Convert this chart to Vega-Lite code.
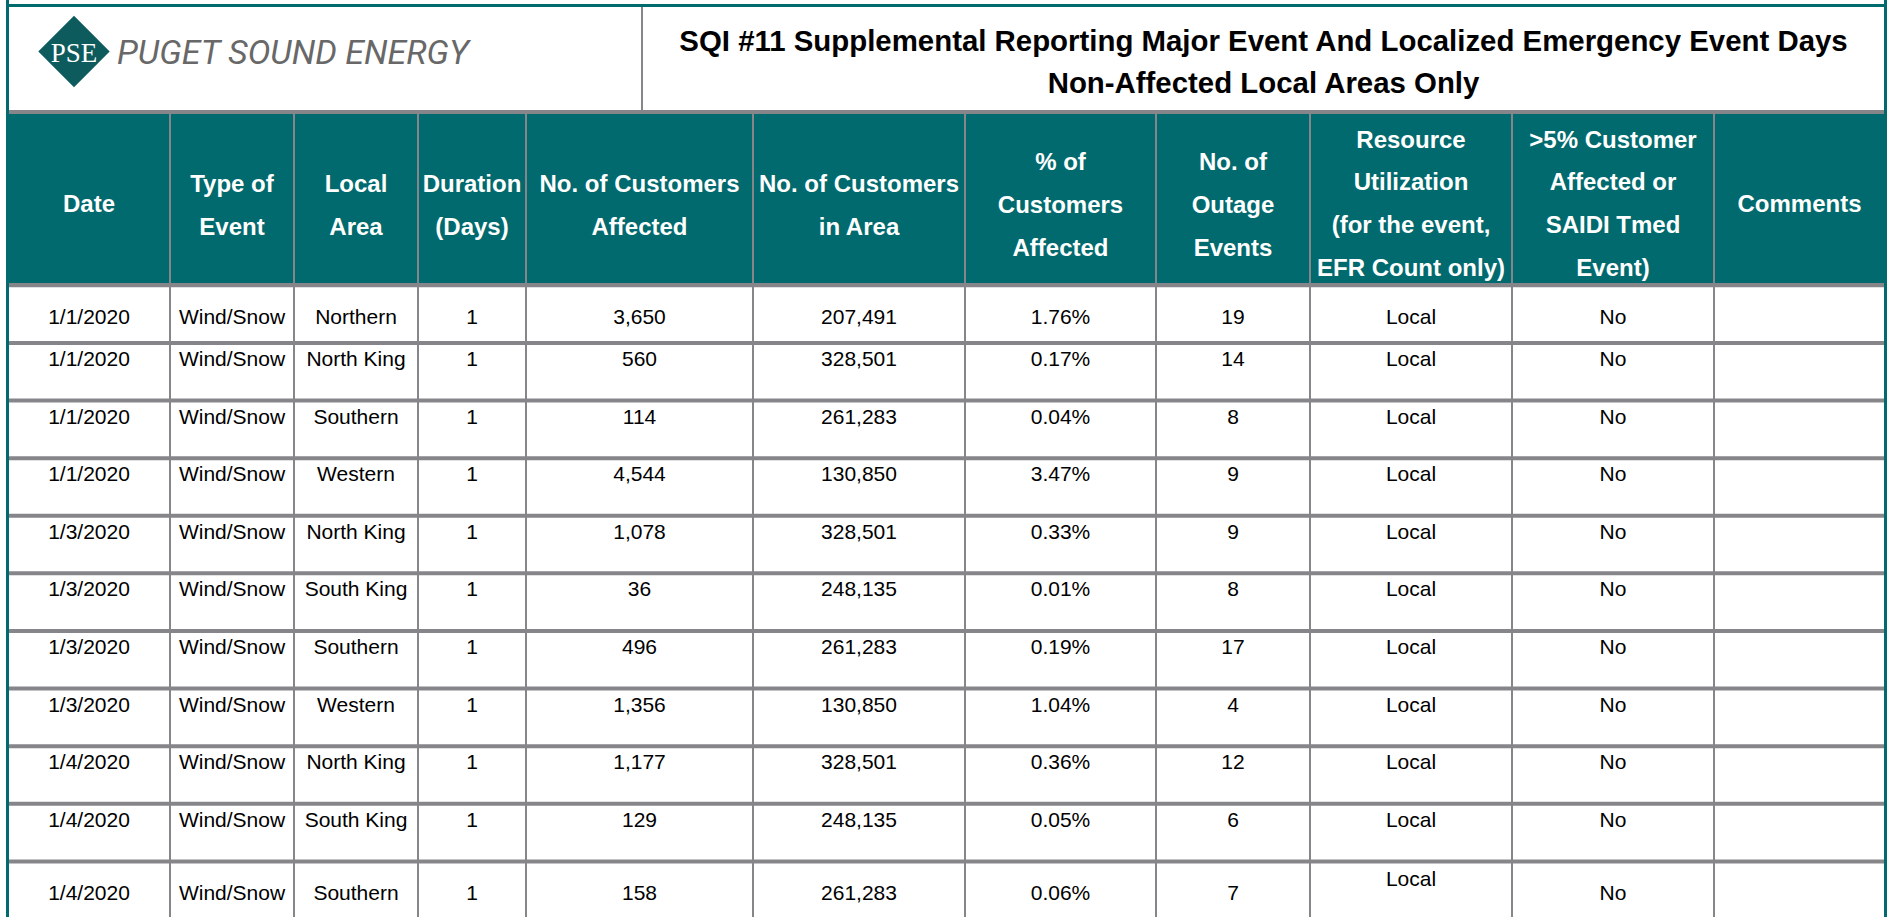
{
  "$schema": "https://vega.github.io/schema/vega-lite/v6.json",
  "background": "#86858a",
  "padding": 0,
  "spacing": 0,
  "config": {
    "view": {"stroke": null},
    "text": {"font": "Liberation Sans", "fontSize": 21, "color": "#000000"}
  },
  "datasets": {
    "logo": [
      {"part": "emblem", "label": "PSE"},
      {"part": "name", "label": "PUGET SOUND ENERGY"}
    ],
    "title": [
      {"lines": ["SQI #11 Supplemental Reporting Major Event And Localized Emergency Event Days", "Non-Affected Local Areas Only"]}
    ],
    "headers": [
      {"key": "date", "lines": ["Date"]},
      {"key": "type", "lines": ["Type of", "Event"]},
      {"key": "area", "lines": ["Local", "Area"]},
      {"key": "days", "lines": ["Duration", "(Days)"]},
      {"key": "affected", "lines": ["No. of Customers", "Affected"]},
      {"key": "customers", "lines": ["No. of Customers", "in Area"]},
      {"key": "pct", "lines": ["% of", "Customers", "Affected"]},
      {"key": "outages", "lines": ["No. of", "Outage", "Events"]},
      {"key": "resource", "lines": ["Resource", "Utilization", "(for the event,", "EFR Count only)"]},
      {"key": "over5", "lines": [">5% Customer", "Affected or", "SAIDI Tmed", "Event)"]},
      {"key": "comments", "lines": ["Comments"]}
    ],
    "rows": [
      {"row": 1, "date": "1/1/2020", "type": "Wind/Snow", "area": "Northern", "days": 1, "affected": 3650, "customers": 207491, "pct": 0.0176, "outages": 19, "resource": "Local", "over5": "No"},
      {"row": 2, "date": "1/1/2020", "type": "Wind/Snow", "area": "North King", "days": 1, "affected": 560, "customers": 328501, "pct": 0.0017, "outages": 14, "resource": "Local", "over5": "No"},
      {"row": 3, "date": "1/1/2020", "type": "Wind/Snow", "area": "Southern", "days": 1, "affected": 114, "customers": 261283, "pct": 0.0004, "outages": 8, "resource": "Local", "over5": "No"},
      {"row": 4, "date": "1/1/2020", "type": "Wind/Snow", "area": "Western", "days": 1, "affected": 4544, "customers": 130850, "pct": 0.0347, "outages": 9, "resource": "Local", "over5": "No"},
      {"row": 5, "date": "1/3/2020", "type": "Wind/Snow", "area": "North King", "days": 1, "affected": 1078, "customers": 328501, "pct": 0.0033, "outages": 9, "resource": "Local", "over5": "No"},
      {"row": 6, "date": "1/3/2020", "type": "Wind/Snow", "area": "South King", "days": 1, "affected": 36, "customers": 248135, "pct": 0.0001, "outages": 8, "resource": "Local", "over5": "No"},
      {"row": 7, "date": "1/3/2020", "type": "Wind/Snow", "area": "Southern", "days": 1, "affected": 496, "customers": 261283, "pct": 0.0019, "outages": 17, "resource": "Local", "over5": "No"},
      {"row": 8, "date": "1/3/2020", "type": "Wind/Snow", "area": "Western", "days": 1, "affected": 1356, "customers": 130850, "pct": 0.0104, "outages": 4, "resource": "Local", "over5": "No"},
      {"row": 9, "date": "1/4/2020", "type": "Wind/Snow", "area": "North King", "days": 1, "affected": 1177, "customers": 328501, "pct": 0.0036, "outages": 12, "resource": "Local", "over5": "No"},
      {"row": 10, "date": "1/4/2020", "type": "Wind/Snow", "area": "South King", "days": 1, "affected": 129, "customers": 248135, "pct": 0.0005, "outages": 6, "resource": "Local", "over5": "No"},
      {"row": 11, "date": "1/4/2020", "type": "Wind/Snow", "area": "Southern", "days": 1, "affected": 158, "customers": 261283, "pct": 0.0006, "outages": 7, "resource": "Local", "over5": "No"}
    ]
  },
  "hconcat": [
    {"width": 6, "height": 917, "view": {"fill": "#ffffff"}, "data": {"values": [{}]}, "mark": {"type": "point", "size": 0, "strokeWidth": 0, "opacity": 0}},
    {"width": 3, "height": 917, "view": {"fill": "#016a6e"}, "data": {"values": [{}]}, "mark": {"type": "point", "size": 0, "strokeWidth": 0, "opacity": 0}},
    {
      "spacing": 0,
      "vconcat": [
        {"width": 1875, "height": 4, "view": {"fill": "#ffffff"}, "data": {"values": [{}]}, "mark": {"type": "point", "size": 0, "strokeWidth": 0, "opacity": 0}},
        {"width": 1875, "height": 3, "view": {"fill": "#016a6e"}, "data": {"values": [{}]}, "mark": {"type": "point", "size": 0, "strokeWidth": 0, "opacity": 0}},
        {
          "spacing": 4,
          "vconcat": [
            {
              "spacing": 2,
              "hconcat": [
                {
                  "width": 632, "height": 103, "view": {"fill": "#ffffff"},
                  "data": {"name": "logo"},
                  "encoding": {"x": {"field": "part", "type": "nominal", "axis": null, "scale": {"type": "point", "domain": ["emblem", "name"], "range": [65, 108], "padding": 0}}},
                  "layer": [
                    {"transform": [{"filter": "datum.part === 'emblem'"}], "mark": {"type": "point", "shape": "diamond", "filled": true, "size": 5100, "color": "#0e5b5d", "opacity": 1, "strokeWidth": 0, "yOffset": -7}},
                    {"transform": [{"filter": "datum.part === 'emblem'"}], "mark": {"type": "text", "font": "Liberation Serif", "fontSize": 27, "color": "#ffffff", "dy": -5}, "encoding": {"text": {"field": "label", "type": "nominal"}}},
                    {"transform": [{"filter": "datum.part === 'name'"}], "mark": {"type": "text", "font": "Roboto", "fontWeight": 400, "fontStyle": "italic", "fontSize": 34, "color": "#686868", "align": "left", "dy": -4.6}, "encoding": {"text": {"field": "label", "type": "nominal"}}}
                  ]
                },
                {
                  "width": 1241, "height": 103, "view": {"fill": "#ffffff"},
                  "data": {"name": "title"},
                  "mark": {"type": "text", "fontWeight": "bold", "fontSize": 29.4, "lineHeight": 42.7, "dy": -16.8},
                  "encoding": {"text": {"field": "lines", "type": "nominal"}}
                }
              ]
            },
            {
              "spacing": 2,
              "hconcat": [
                {"width": 160, "height": 169, "view": {"fill": "#016a6e"}, "data": {"name": "headers"}, "transform": [{"filter": "datum.key === 'date'"}], "mark": {"type": "text", "fontWeight": "bold", "fontSize": 24, "color": "#ffffff", "lineHeight": 42.8, "dy": 6.8}, "encoding": {"text": {"field": "lines", "type": "nominal"}}},
                {"width": 122, "height": 169, "view": {"fill": "#016a6e"}, "data": {"name": "headers"}, "transform": [{"filter": "datum.key === 'type'"}], "mark": {"type": "text", "fontWeight": "bold", "fontSize": 24, "color": "#ffffff", "lineHeight": 42.8, "dy": -13.6}, "encoding": {"text": {"field": "lines", "type": "nominal"}}},
                {"width": 122, "height": 169, "view": {"fill": "#016a6e"}, "data": {"name": "headers"}, "transform": [{"filter": "datum.key === 'area'"}], "mark": {"type": "text", "fontWeight": "bold", "fontSize": 24, "color": "#ffffff", "lineHeight": 42.8, "dy": -13.6}, "encoding": {"text": {"field": "lines", "type": "nominal"}}},
                {"width": 106, "height": 169, "view": {"fill": "#016a6e"}, "data": {"name": "headers"}, "transform": [{"filter": "datum.key === 'days'"}], "mark": {"type": "text", "fontWeight": "bold", "fontSize": 24, "color": "#ffffff", "lineHeight": 42.8, "dy": -13.6}, "encoding": {"text": {"field": "lines", "type": "nominal"}}},
                {"width": 225, "height": 169, "view": {"fill": "#016a6e"}, "data": {"name": "headers"}, "transform": [{"filter": "datum.key === 'affected'"}], "mark": {"type": "text", "fontWeight": "bold", "fontSize": 24, "color": "#ffffff", "lineHeight": 42.8, "dy": -13.6}, "encoding": {"text": {"field": "lines", "type": "nominal"}}},
                {"width": 210, "height": 169, "view": {"fill": "#016a6e"}, "data": {"name": "headers"}, "transform": [{"filter": "datum.key === 'customers'"}], "mark": {"type": "text", "fontWeight": "bold", "fontSize": 24, "color": "#ffffff", "lineHeight": 42.8, "dy": -13.6}, "encoding": {"text": {"field": "lines", "type": "nominal"}}},
                {"width": 189, "height": 169, "view": {"fill": "#016a6e"}, "data": {"name": "headers"}, "transform": [{"filter": "datum.key === 'pct'"}], "mark": {"type": "text", "fontWeight": "bold", "fontSize": 24, "color": "#ffffff", "lineHeight": 42.8, "dy": -35.4}, "encoding": {"text": {"field": "lines", "type": "nominal"}}},
                {"width": 152, "height": 169, "view": {"fill": "#016a6e"}, "data": {"name": "headers"}, "transform": [{"filter": "datum.key === 'outages'"}], "mark": {"type": "text", "fontWeight": "bold", "fontSize": 24, "color": "#ffffff", "lineHeight": 42.8, "dy": -35.4}, "encoding": {"text": {"field": "lines", "type": "nominal"}}},
                {"width": 200, "height": 169, "view": {"fill": "#016a6e"}, "data": {"name": "headers"}, "transform": [{"filter": "datum.key === 'resource'"}], "mark": {"type": "text", "fontWeight": "bold", "fontSize": 24, "color": "#ffffff", "lineHeight": 42.8, "dy": -57.9}, "encoding": {"text": {"field": "lines", "type": "nominal"}}},
                {"width": 200, "height": 169, "view": {"fill": "#016a6e"}, "data": {"name": "headers"}, "transform": [{"filter": "datum.key === 'over5'"}], "mark": {"type": "text", "fontWeight": "bold", "fontSize": 24, "color": "#ffffff", "lineHeight": 42.8, "dy": -57.9}, "encoding": {"text": {"field": "lines", "type": "nominal"}}},
                {"width": 169, "height": 169, "view": {"fill": "#016a6e"}, "data": {"name": "headers"}, "transform": [{"filter": "datum.key === 'comments'"}], "mark": {"type": "text", "fontWeight": "bold", "fontSize": 24, "color": "#ffffff", "lineHeight": 42.8, "dy": 6.8}, "encoding": {"text": {"field": "lines", "type": "nominal"}}}
              ]
            },
            {
              "spacing": 2,
              "hconcat": [
                {
                  "width": 160, "height": 630, "data": {"name": "rows"},
                  "encoding": {"y": {"field": "row", "type": "ordinal", "axis": null, "scale": {"domain": [1,2,3,4,5,6,7,8,9,10,11], "range": [0.3, 630], "paddingInner": 0.0693, "paddingOuter": 0}}},
                  "layer": [
                    {"mark": {"type": "rect", "color": "#ffffff"}},
                    {"transform": [{"filter": "datum.row === 1"}], "mark": {"type": "text", "dy": 4.1}, "encoding": {"text": {"field": "date", "type": "nominal"}}},
                    {"transform": [{"filter": "datum.row > 1 && datum.row < 11"}], "mark": {"type": "text", "dy": -11.8}, "encoding": {"text": {"field": "date", "type": "nominal"}}},
                    {"transform": [{"filter": "datum.row === 11"}], "mark": {"type": "text", "dy": 3.4}, "encoding": {"text": {"field": "date", "type": "nominal"}}}
                  ]
                },
                {
                  "width": 122, "height": 630, "data": {"name": "rows"},
                  "encoding": {"y": {"field": "row", "type": "ordinal", "axis": null, "scale": {"domain": [1,2,3,4,5,6,7,8,9,10,11], "range": [0.3, 630], "paddingInner": 0.0693, "paddingOuter": 0}}},
                  "layer": [
                    {"mark": {"type": "rect", "color": "#ffffff"}},
                    {"transform": [{"filter": "datum.row === 1"}], "mark": {"type": "text", "dy": 4.1}, "encoding": {"text": {"field": "type", "type": "nominal"}}},
                    {"transform": [{"filter": "datum.row > 1 && datum.row < 11"}], "mark": {"type": "text", "dy": -11.8}, "encoding": {"text": {"field": "type", "type": "nominal"}}},
                    {"transform": [{"filter": "datum.row === 11"}], "mark": {"type": "text", "dy": 3.4}, "encoding": {"text": {"field": "type", "type": "nominal"}}}
                  ]
                },
                {
                  "width": 122, "height": 630, "data": {"name": "rows"},
                  "encoding": {"y": {"field": "row", "type": "ordinal", "axis": null, "scale": {"domain": [1,2,3,4,5,6,7,8,9,10,11], "range": [0.3, 630], "paddingInner": 0.0693, "paddingOuter": 0}}},
                  "layer": [
                    {"mark": {"type": "rect", "color": "#ffffff"}},
                    {"transform": [{"filter": "datum.row === 1"}], "mark": {"type": "text", "dy": 4.1}, "encoding": {"text": {"field": "area", "type": "nominal"}}},
                    {"transform": [{"filter": "datum.row > 1 && datum.row < 11"}], "mark": {"type": "text", "dy": -11.8}, "encoding": {"text": {"field": "area", "type": "nominal"}}},
                    {"transform": [{"filter": "datum.row === 11"}], "mark": {"type": "text", "dy": 3.4}, "encoding": {"text": {"field": "area", "type": "nominal"}}}
                  ]
                },
                {
                  "width": 106, "height": 630, "data": {"name": "rows"},
                  "encoding": {"y": {"field": "row", "type": "ordinal", "axis": null, "scale": {"domain": [1,2,3,4,5,6,7,8,9,10,11], "range": [0.3, 630], "paddingInner": 0.0693, "paddingOuter": 0}}},
                  "layer": [
                    {"mark": {"type": "rect", "color": "#ffffff"}},
                    {"transform": [{"filter": "datum.row === 1"}], "mark": {"type": "text", "dy": 4.1}, "encoding": {"text": {"field": "days", "type": "quantitative", "format": "d"}}},
                    {"transform": [{"filter": "datum.row > 1 && datum.row < 11"}], "mark": {"type": "text", "dy": -11.8}, "encoding": {"text": {"field": "days", "type": "quantitative", "format": "d"}}},
                    {"transform": [{"filter": "datum.row === 11"}], "mark": {"type": "text", "dy": 3.4}, "encoding": {"text": {"field": "days", "type": "quantitative", "format": "d"}}}
                  ]
                },
                {
                  "width": 225, "height": 630, "data": {"name": "rows"},
                  "encoding": {"y": {"field": "row", "type": "ordinal", "axis": null, "scale": {"domain": [1,2,3,4,5,6,7,8,9,10,11], "range": [0.3, 630], "paddingInner": 0.0693, "paddingOuter": 0}}},
                  "layer": [
                    {"mark": {"type": "rect", "color": "#ffffff"}},
                    {"transform": [{"filter": "datum.row === 1"}], "mark": {"type": "text", "dy": 4.1}, "encoding": {"text": {"field": "affected", "type": "quantitative", "format": ","}}},
                    {"transform": [{"filter": "datum.row > 1 && datum.row < 11"}], "mark": {"type": "text", "dy": -11.8}, "encoding": {"text": {"field": "affected", "type": "quantitative", "format": ","}}},
                    {"transform": [{"filter": "datum.row === 11"}], "mark": {"type": "text", "dy": 3.4}, "encoding": {"text": {"field": "affected", "type": "quantitative", "format": ","}}}
                  ]
                },
                {
                  "width": 210, "height": 630, "data": {"name": "rows"},
                  "encoding": {"y": {"field": "row", "type": "ordinal", "axis": null, "scale": {"domain": [1,2,3,4,5,6,7,8,9,10,11], "range": [0.3, 630], "paddingInner": 0.0693, "paddingOuter": 0}}},
                  "layer": [
                    {"mark": {"type": "rect", "color": "#ffffff"}},
                    {"transform": [{"filter": "datum.row === 1"}], "mark": {"type": "text", "dy": 4.1}, "encoding": {"text": {"field": "customers", "type": "quantitative", "format": ","}}},
                    {"transform": [{"filter": "datum.row > 1 && datum.row < 11"}], "mark": {"type": "text", "dy": -11.8}, "encoding": {"text": {"field": "customers", "type": "quantitative", "format": ","}}},
                    {"transform": [{"filter": "datum.row === 11"}], "mark": {"type": "text", "dy": 3.4}, "encoding": {"text": {"field": "customers", "type": "quantitative", "format": ","}}}
                  ]
                },
                {
                  "width": 189, "height": 630, "data": {"name": "rows"},
                  "encoding": {"y": {"field": "row", "type": "ordinal", "axis": null, "scale": {"domain": [1,2,3,4,5,6,7,8,9,10,11], "range": [0.3, 630], "paddingInner": 0.0693, "paddingOuter": 0}}},
                  "layer": [
                    {"mark": {"type": "rect", "color": "#ffffff"}},
                    {"transform": [{"filter": "datum.row === 1"}], "mark": {"type": "text", "dy": 4.1}, "encoding": {"text": {"field": "pct", "type": "quantitative", "format": ".2%"}}},
                    {"transform": [{"filter": "datum.row > 1 && datum.row < 11"}], "mark": {"type": "text", "dy": -11.8}, "encoding": {"text": {"field": "pct", "type": "quantitative", "format": ".2%"}}},
                    {"transform": [{"filter": "datum.row === 11"}], "mark": {"type": "text", "dy": 3.4}, "encoding": {"text": {"field": "pct", "type": "quantitative", "format": ".2%"}}}
                  ]
                },
                {
                  "width": 152, "height": 630, "data": {"name": "rows"},
                  "encoding": {"y": {"field": "row", "type": "ordinal", "axis": null, "scale": {"domain": [1,2,3,4,5,6,7,8,9,10,11], "range": [0.3, 630], "paddingInner": 0.0693, "paddingOuter": 0}}},
                  "layer": [
                    {"mark": {"type": "rect", "color": "#ffffff"}},
                    {"transform": [{"filter": "datum.row === 1"}], "mark": {"type": "text", "dy": 4.1}, "encoding": {"text": {"field": "outages", "type": "quantitative", "format": "d"}}},
                    {"transform": [{"filter": "datum.row > 1 && datum.row < 11"}], "mark": {"type": "text", "dy": -11.8}, "encoding": {"text": {"field": "outages", "type": "quantitative", "format": "d"}}},
                    {"transform": [{"filter": "datum.row === 11"}], "mark": {"type": "text", "dy": 3.4}, "encoding": {"text": {"field": "outages", "type": "quantitative", "format": "d"}}}
                  ]
                },
                {
                  "width": 200, "height": 630, "data": {"name": "rows"},
                  "encoding": {"y": {"field": "row", "type": "ordinal", "axis": null, "scale": {"domain": [1,2,3,4,5,6,7,8,9,10,11], "range": [0.3, 630], "paddingInner": 0.0693, "paddingOuter": 0}}},
                  "layer": [
                    {"mark": {"type": "rect", "color": "#ffffff"}},
                    {"transform": [{"filter": "datum.row === 1"}], "mark": {"type": "text", "dy": 4.1}, "encoding": {"text": {"field": "resource", "type": "nominal"}}},
                    {"transform": [{"filter": "datum.row > 1 && datum.row < 11"}], "mark": {"type": "text", "dy": -11.8}, "encoding": {"text": {"field": "resource", "type": "nominal"}}},
                    {"transform": [{"filter": "datum.row === 11"}], "mark": {"type": "text", "dy": -10}, "encoding": {"text": {"field": "resource", "type": "nominal"}}}
                  ]
                },
                {
                  "width": 200, "height": 630, "data": {"name": "rows"},
                  "encoding": {"y": {"field": "row", "type": "ordinal", "axis": null, "scale": {"domain": [1,2,3,4,5,6,7,8,9,10,11], "range": [0.3, 630], "paddingInner": 0.0693, "paddingOuter": 0}}},
                  "layer": [
                    {"mark": {"type": "rect", "color": "#ffffff"}},
                    {"transform": [{"filter": "datum.row === 1"}], "mark": {"type": "text", "dy": 4.1}, "encoding": {"text": {"field": "over5", "type": "nominal"}}},
                    {"transform": [{"filter": "datum.row > 1 && datum.row < 11"}], "mark": {"type": "text", "dy": -11.8}, "encoding": {"text": {"field": "over5", "type": "nominal"}}},
                    {"transform": [{"filter": "datum.row === 11"}], "mark": {"type": "text", "dy": 3.4}, "encoding": {"text": {"field": "over5", "type": "nominal"}}}
                  ]
                },
                {
                  "width": 169, "height": 630, "data": {"name": "rows"},
                  "encoding": {"y": {"field": "row", "type": "ordinal", "axis": null, "scale": {"domain": [1,2,3,4,5,6,7,8,9,10,11], "range": [0.3, 630], "paddingInner": 0.0693, "paddingOuter": 0}}},
                  "mark": {"type": "rect", "color": "#ffffff"}
                }
              ]
            }
          ]
        }
      ]
    },
    {"width": 3, "height": 917, "view": {"fill": "#016a6e"}, "data": {"values": [{}]}, "mark": {"type": "point", "size": 0, "strokeWidth": 0, "opacity": 0}},
    {"width": 2, "height": 917, "view": {"fill": "#ffffff"}, "data": {"values": [{}]}, "mark": {"type": "point", "size": 0, "strokeWidth": 0, "opacity": 0}}
  ]
}
